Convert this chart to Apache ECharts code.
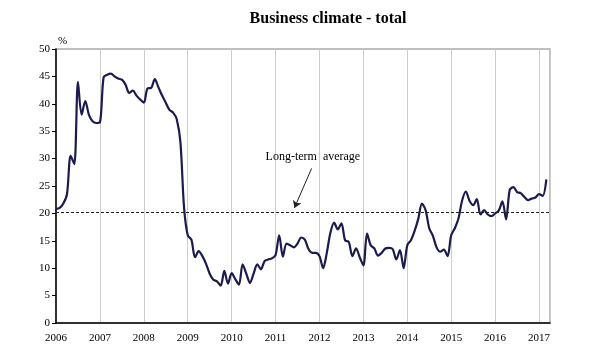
<!DOCTYPE html>
<html>
<head>
<meta charset="utf-8">
<script src="https://cdn.jsdelivr.net/npm/echarts@6/dist/echarts.min.js"></script>
<style>html,body{margin:0;padding:0;background:#fff;}#c{width:600px;height:357px;}</style>
</head>
<body>
<div id="c"></div>
<script>
const titleText = 'Business climate - total';
const unitLabel = '%';
const startYear = 2006;
const yearTicks = [2006, 2007, 2008, 2009, 2010, 2011, 2012, 2013, 2014, 2015, 2016, 2017];
const longTermAverage = 20.2;
const annotationText = 'Long-term  average';
// monthly values, Jan 2006 .. Mar 2017
const v2006 = [20.8, 21.0, 21.8, 23.5, 30.5, 29.0, 44.0, 38.0, 40.5, 38.0, 36.8, 36.5];
const v2007 = [36.6, 44.8, 45.3, 45.5, 45.0, 44.6, 44.4, 43.5, 42.0, 42.4, 41.5, 40.8];
const v2008 = [40.2, 42.8, 42.9, 44.5, 43.0, 41.5, 40.2, 38.9, 38.4, 37.2, 33.0, 21.0];
const v2009 = [16.0, 15.2, 12.0, 13.1, 12.2, 10.8, 9.0, 7.9, 7.6, 6.8, 9.5, 7.2];
const v2010 = [9.1, 8.0, 7.0, 10.7, 9.0, 7.3, 9.0, 10.7, 9.8, 11.3, 11.6, 11.8];
const v2011 = [12.4, 16.0, 12.1, 14.5, 14.2, 13.8, 14.5, 15.6, 15.2, 13.5, 12.8, 12.8];
const v2012 = [12.2, 10.0, 12.8, 16.5, 18.3, 17.1, 18.2, 15.1, 14.8, 12.2, 13.6, 12.0];
const v2013 = [10.5, 16.3, 14.2, 13.6, 12.3, 12.8, 13.6, 13.7, 13.5, 11.6, 13.3, 10.0];
const v2014 = [14.2, 15.1, 16.8, 19.0, 21.8, 20.6, 17.3, 15.9, 13.8, 13.0, 13.4, 12.2];
const v2015 = [16.0, 17.3, 19.1, 22.4, 24.0, 22.3, 21.5, 22.6, 19.8, 20.6, 19.8, 19.5];
const v2016 = [20.0, 20.5, 22.2, 18.9, 24.3, 24.8, 23.9, 23.7, 23.0, 22.4, 22.7, 22.9];
const v2017 = [23.5, 23.2, 26.2];

const values = [].concat(v2006, v2007, v2008, v2009, v2010, v2011, v2012, v2013, v2014, v2015, v2016, v2017);
const seriesData = values.map((v, i) => [startYear + i / 12, v]);

const serif = 'Liberation Serif';
const chart = echarts.init(document.getElementById('c'), null, {renderer: 'canvas'});
chart.setOption({
  animation: false,
  backgroundColor: '#fff',
  graphic: [{
    type: 'text', x: 328, y: 19,
    style: {text: titleText, fontFamily: serif, fontWeight: 'bold', fontSize: 16, fill: '#000', align: 'center', verticalAlign: 'middle'}
  }],
  grid: {left: 56, right: 50, top: 49, bottom: 34, show: true, borderColor: '#aaa', borderWidth: 1.5},
  xAxis: {
    type: 'value', min: 2006, max: 2017.25, interval: 1,
    axisLine: {show: true, onZero: false, lineStyle: {color: '#000', width: 1.5}},
    axisTick: {show: false},
    axisLabel: {
      fontFamily: serif, fontSize: 11, color: '#000', margin: 10, showMaxLabel: false,
      formatter: v => (yearTicks.indexOf(Math.round(v)) >= 0 && Math.abs(v - Math.round(v)) < 1e-6) ? String(Math.round(v)) : ''
    },
    splitLine: {show: true, lineStyle: {color: '#ccc', width: 1}}
  },
  yAxis: {
    type: 'value', min: 0, max: 50, interval: 5,
    name: unitLabel, nameLocation: 'end', nameGap: 2,
    nameTextStyle: {fontFamily: serif, fontSize: 11, color: '#000', align: 'left', padding: [0, 0, 0, 2]},
    axisLine: {show: true, lineStyle: {color: '#000', width: 1.5}},
    axisTick: {show: true, length: 4, lineStyle: {color: '#000'}},
    axisLabel: {fontFamily: serif, fontSize: 11, color: '#000', margin: 6},
    splitLine: {show: false}
  },
  series: [{
    type: 'line', data: seriesData, showSymbol: false, smooth: 0.3,
    lineStyle: {color: '#1b1b4d', width: 2.2},
    markLine: {
      silent: true, animation: false,
      data: [
        [{coord: [2006, longTermAverage], symbol: 'none', lineStyle: {color: '#222', type: [3, 2], width: 1}},
         {coord: [2017.25, longTermAverage], symbol: 'none'}],
        [{coord: [2011.82, 28.2], symbol: 'none', lineStyle: {color: '#222', type: 'solid', width: 1}},
         {coord: [2011.43, 21.0], symbol: 'arrow', symbolSize: 7}]
      ],
      label: {show: false}
    },
    markPoint: {
      silent: true, symbol: 'circle', symbolSize: 0,
      data: [{coord: [2011.85, 30.3], label: {show: true, formatter: annotationText, fontFamily: serif, fontSize: 12, color: '#000'}}]
    }
  }]
});
</script>
</body>
</html>
